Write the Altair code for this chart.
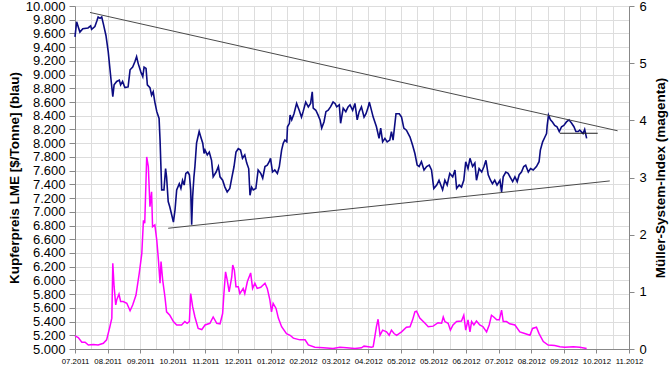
import altair as alt
import pandas as pd

# x positions are in month units from the 07.2011 tick (axis spans 17 intervals)
month_labels = ["07.2011", "08.2011", "09.2011", "10.2011", "11.2011", "12.2011",
                "01.2012", "02.2012", "03.2012", "04.2012", "05.2012", "05.2012",
                "06.2012", "07.2012", "08.2012", "09.2012", "10.2012", "11.2012"]

blue_x = [0.00,0.05,0.15,0.24,0.40,0.48,0.51,0.61,0.67,0.71,
          0.77,0.82,0.87,0.95,1.02,1.10,1.16,1.20,1.28,1.36,
          1.40,1.46,1.53,1.63,1.69,1.77,1.84,1.89,1.94,2.02,
          2.08,2.12,2.18,2.22,2.30,2.35,2.40,2.45,2.51,2.58,
          2.61,2.66,2.73,2.78,2.81,2.86,2.91,2.97,3.02,3.07,
          3.12,3.20,3.25,3.30,3.35,3.40,3.46,3.51,3.55,3.58,
          3.61,3.65,3.68,3.73,3.81,3.86,3.92,3.96,3.99,4.06,
          4.12,4.19,4.24,4.33,4.40,4.45,4.53,4.60,4.67,4.75,
          4.81,4.88,4.94,5.01,5.08,5.14,5.21,5.27,5.33,5.37,
          5.42,5.47,5.55,5.62,5.70,5.76,5.83,5.90,5.96,6.00,
          6.06,6.13,6.21,6.27,6.34,6.39,6.44,6.50,6.52,6.58,
          6.60,6.65,6.72,6.80,6.88,6.95,7.00,7.08,7.16,7.23,
          7.28,7.31,7.39,7.46,7.52,7.57,7.64,7.70,7.77,7.84,
          7.92,7.98,8.03,8.11,8.15,8.23,8.31,8.38,8.44,8.52,
          8.59,8.66,8.72,8.79,8.87,8.93,9.00,9.03,9.07,9.15,
          9.25,9.33,9.38,9.44,9.51,9.58,9.66,9.71,9.76,9.85,
          9.95,10.02,10.09,10.17,10.28,10.36,10.43,10.50,10.56,10.63,
          10.71,10.79,10.87,10.94,11.01,11.10,11.17,11.28,11.35,11.42,
          11.50,11.59,11.66,11.71,11.79,11.86,11.93,11.99,12.06,12.12,
          12.20,12.27,12.32,12.40,12.48,12.55,12.61,12.68,12.75,12.81,
          12.88,12.95,13.04,13.09,13.14,13.22,13.29,13.37,13.43,13.50,
          13.57,13.63,13.70,13.77,13.83,13.91,13.98,14.06,14.16,14.24,
          14.28,14.35,14.42,14.47,14.49,14.53,14.59,14.65,14.72,14.79,
          14.86,14.93,15.00,15.08,15.16,15.24,15.31,15.37,15.44,15.49,
          15.59,15.64,15.70]

copper_price = [9550,9770,9620,9670,9680,9710,9660,9700,9780,9840,
                9820,9840,9740,9570,9330,8950,8680,8850,8900,8920,
                8850,8900,8810,8820,9070,9110,9190,9260,9160,9040,
                8970,9110,9090,8850,8810,8700,8750,8600,8460,8360,
                8045,7320,7320,7630,7510,7150,7070,6950,6850,7030,
                7320,7410,7340,7460,7390,7560,7580,7540,7320,6810,
                7220,7510,7660,8000,8170,8090,8000,7850,7900,7830,
                7870,7750,7510,7580,7660,7510,7460,7360,7290,7340,
                7490,7660,7870,7920,7900,7780,7830,7710,7630,7240,
                7360,7320,7340,7610,7560,7490,7660,7680,7730,7780,
                7580,7610,7560,7660,7900,8000,8045,8020,8240,8290,
                8410,8340,8430,8580,8480,8380,8460,8600,8530,8580,
                8750,8510,8480,8410,8340,8220,8310,8460,8480,8530,
                8600,8580,8530,8560,8290,8510,8460,8530,8560,8480,
                8580,8340,8460,8530,8380,8430,8530,8600,8530,8380,
                8240,8070,8220,8020,8070,8020,8045,8170,8045,8430,
                8430,8380,8220,8190,8090,7970,7850,7680,7660,7730,
                7610,7660,7680,7610,7340,7390,7460,7320,7460,7390,
                7560,7510,7610,7340,7390,7360,7460,7730,7630,7780,
                7660,7710,7460,7630,7580,7660,7750,7540,7460,7410,
                7460,7390,7460,7290,7510,7580,7560,7490,7440,7510,
                7440,7540,7580,7660,7680,7580,7630,7610,7660,7730,
                7900,8020,8090,8140,8260,8410,8340,8310,8260,8240,
                8170,8240,8260,8310,8340,8290,8240,8170,8170,8190,
                8140,8200,8070]

magenta_x = [0.00,0.10,0.21,0.31,0.41,0.56,0.71,0.87,0.97,1.07,
             1.13,1.16,1.20,1.25,1.28,1.35,1.40,1.48,1.59,1.69,
             1.77,1.87,1.97,2.05,2.10,2.14,2.20,2.25,2.30,2.35,
             2.38,2.45,2.51,2.56,2.61,2.64,2.69,2.76,2.81,2.91,
             3.02,3.12,3.27,3.37,3.44,3.51,3.55,3.61,3.68,3.78,
             3.89,3.99,4.14,4.24,4.35,4.45,4.53,4.57,4.62,4.67,
             4.73,4.81,4.84,4.89,4.94,5.01,5.06,5.16,5.21,5.29,
             5.39,5.45,5.52,5.59,5.70,5.83,5.90,5.98,6.03,6.08,
             6.17,6.24,6.34,6.49,6.60,6.70,6.90,7.06,7.16,7.36,
             7.62,7.92,8.13,8.33,8.59,8.79,8.87,9.00,9.10,9.15,
             9.20,9.25,9.30,9.36,9.44,9.56,9.64,9.71,9.79,9.87,
             10.02,10.17,10.28,10.36,10.43,10.48,10.58,10.74,10.84,10.99,
             11.14,11.25,11.30,11.35,11.45,11.52,11.60,11.71,11.86,11.93,
             11.99,12.06,12.12,12.17,12.24,12.32,12.42,12.52,12.63,12.71,
             12.78,12.85,12.94,13.02,13.09,13.14,13.24,13.34,13.50,13.65,
             13.80,13.96,14.04,14.16,14.24,14.37,14.52,14.72,14.88,15.03,
             15.29,15.49,15.70]

msi_index = [0.23,0.20,0.12,0.12,0.07,0.08,0.07,0.10,0.16,0.39,
             0.54,1.50,1.09,0.77,0.86,0.96,0.83,0.83,0.80,0.67,
             0.77,0.94,1.32,1.67,2.25,2.20,3.36,3.19,2.49,2.75,
             2.14,2.17,1.90,1.56,1.15,1.53,1.21,0.91,0.65,0.59,
             0.48,0.42,0.42,0.48,0.45,0.48,0.97,0.74,0.56,0.36,
             0.34,0.42,0.45,0.56,0.45,0.44,0.62,0.97,1.35,1.21,
             1.00,1.26,1.47,1.38,1.09,1.09,0.97,1.06,0.97,1.18,
             1.33,1.06,1.15,1.06,1.08,1.15,1.06,0.86,0.65,0.80,
             0.71,0.54,0.39,0.27,0.24,0.19,0.16,0.16,0.07,0.03,
             0.02,0.01,0.03,0.02,0.01,0.02,0.05,0.04,0.03,0.04,
             0.21,0.39,0.52,0.24,0.33,0.30,0.24,0.33,0.27,0.24,
             0.30,0.38,0.39,0.51,0.65,0.66,0.54,0.45,0.39,0.40,
             0.46,0.45,0.56,0.48,0.45,0.33,0.42,0.48,0.49,0.59,
             0.33,0.51,0.30,0.48,0.42,0.49,0.42,0.39,0.30,0.42,
             0.59,0.56,0.51,0.51,0.68,0.48,0.48,0.44,0.42,0.30,
             0.27,0.24,0.36,0.38,0.27,0.13,0.07,0.06,0.04,0.03,
             0.04,0.03,0.01]

# trend lines (start/end points)
trend_x1 = [0.46, 2.86, 14.88]
trend_y1 = [9906, 6760, 8145]
trend_x2 = [16.65, 16.41, 16.04]
trend_y2 = [8181, 7450, 8145]
trend_color = ["#4a4a4a", "#4a4a4a", "#202020"]

blue_df = pd.DataFrame({"x": blue_x, "price": copper_price})
mag_df = pd.DataFrame({"x": magenta_x, "msi": msi_index})
trend_df = pd.DataFrame({"x": trend_x1, "y": trend_y1, "x2": trend_x2, "y2": trend_y2,
                         "c": trend_color})

labels_js = "[" + ",".join("'" + l + "'" for l in month_labels) + "]"
x_values = [i / 2 for i in range(0, 35)]

x_scale = alt.Scale(domain=[0, 17], nice=False, zero=False)
x_axis = alt.Axis(
    values=x_values,
    labelExpr="datum.value % 1 == 0 ? " + labels_js + "[datum.value] : ''",
    labelFontSize=7.8,
    labelOverlap=False,
    labelFlush=False,
    labelBound=False,
    labelPadding=4,
    tickSize=4,
    tickOpacity={"condition": {"test": "datum.value % 1 == 0", "value": 1}, "value": 0},
    grid=True,
    title=None,
)

left_scale = alt.Scale(domain=[5000, 10000], nice=False, zero=False)
left_axis = alt.Axis(
    values=list(range(5000, 10001, 200)),
    labelExpr="replace(format(datum.value, ','), ',', '.')",
    labelFontSize=13,
    tickSize=6,
    labelPadding=4,
    title="Kupferpreis LME [$/Tonne] (blau)",
    titleFontSize=13.5,
    titleFontWeight="bold",
    titlePadding=4,
    grid=True,
)

right_scale = alt.Scale(domain=[0, 6], nice=False, zero=False)
right_axis = alt.Axis(
    orient="right",
    values=[0, 1, 2, 3, 4, 5, 6],
    labelFontSize=13,
    tickSize=5,
    labelPadding=5,
    title="Müller-System-Index (magenta)",
    titleFontSize=13.5,
    titleFontWeight="bold",
    titleAngle=270,
    titlePadding=21,
    grid=False,
)

magenta = alt.Chart(mag_df).mark_line(color="#ff00ff", strokeWidth=1.5).encode(
    x=alt.X("x:Q", scale=x_scale, axis=x_axis),
    y=alt.Y("msi:Q", scale=right_scale, axis=right_axis),
)

blue = alt.Chart(blue_df).mark_line(color="#0c0c82", strokeWidth=1.6).encode(
    x=alt.X("x:Q", scale=x_scale, axis=x_axis),
    y=alt.Y("price:Q", scale=left_scale, axis=left_axis),
)

trends = alt.Chart(trend_df).mark_rule(strokeWidth=1).encode(
    x=alt.X("x:Q", scale=x_scale, axis=x_axis),
    x2="x2:Q",
    y=alt.Y("y:Q", scale=left_scale, axis=None),
    y2="y2:Q",
    color=alt.Color("c:N", scale=None, legend=None),
)

chart = alt.layer(blue, magenta, trends).resolve_scale(y="independent").properties(
    width=554,
    height=343,
    autosize=alt.AutoSizeParams(type="none"),
    padding={"left": 75, "top": 6, "right": 41, "bottom": 17},
).configure_axis(
    labelFont="Liberation Sans",
    titleFont="Liberation Sans",
    labelColor="black",
    titleColor="black",
    domainColor="black",
    tickColor="black",
    gridColor="#a8a8a8",
    gridDash=[2, 2],
    gridWidth=1,
).configure_view(strokeWidth=0).configure(background="white")

chart.save("out.html", embed_options={"renderer": "svg", "actions": False})
